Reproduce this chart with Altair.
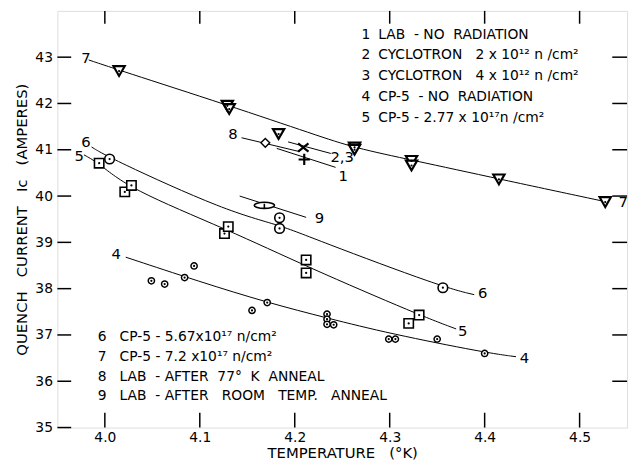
import altair as alt
import pandas as pd

S = "\u00a0"  # non-breaking space used to keep the wide lettering gaps

# ---------------- data ----------------
x_ticks = [4.0, 4.1, 4.2, 4.3, 4.4, 4.5]
y_ticks = [35, 36, 37, 38, 39, 40, 41, 42, 43]
y_ticks_right = [36, 37, 38, 39, 40, 41, 42, 43]

# series 7 (CP-5 7.2e17) inverted triangles
s7_x = [4.015, 4.129, 4.131, 4.183, 4.263, 4.263, 4.323, 4.323, 4.415, 4.527]
s7_y = [42.70, 41.95, 41.88, 41.34, 41.05, 41.00, 40.76, 40.66, 40.36, 39.87]
# series 6 (CP-5 5.67e17) circles
s6_x = [4.005, 4.184, 4.184, 4.356]
s6_y = [40.80, 39.53, 39.30, 38.02]
# series 5 (CP-5 2.77e17) squares
s5_x = [3.994, 4.021, 4.028, 4.126, 4.130, 4.212, 4.212, 4.320, 4.331]
s5_y = [40.71, 40.09, 40.23, 39.19, 39.34, 38.62, 38.34, 37.25, 37.43]
# series 4 (CP-5 no radiation) small circles
s4_x = [4.049, 4.063, 4.084, 4.094, 4.155, 4.171, 4.234, 4.234, 4.234, 4.241, 4.299, 4.306, 4.350, 4.400]
s4_y = [38.17, 38.10, 38.24, 38.49, 37.53, 37.70, 37.45, 37.34, 37.23, 37.22, 36.91, 36.91, 36.91, 36.60]
# single points
s8_x, s8_y = [4.169], [41.15]      # diamond
s23_x, s23_y = [4.209], [41.05]    # cross
s1_x, s1_y = [4.210], [40.79]      # plus
s9_x, s9_y = [4.168], [39.80]      # ellipse

# fitted curves
c7_x = [3.983, 4.015, 4.130, 4.222, 4.263, 4.323, 4.415, 4.527]
c7_y = [42.94, 42.72, 41.96, 41.32, 41.04, 40.78, 40.37, 39.88]
c6_x = [3.986, 4.005, 4.129, 4.184, 4.222, 4.356, 4.389]
c6_y = [41.06, 40.82, 39.66, 39.38, 39.06, 38.03, 37.87]
c5_x = [3.978, 3.994, 4.025, 4.130, 4.212, 4.331, 4.370]
c5_y = [40.89, 40.71, 40.16, 39.27, 38.48, 37.43, 37.13]
c4_x = [4.022, 4.100, 4.171, 4.235, 4.300, 4.400, 4.433]
c4_y = [38.68, 38.15, 37.70, 37.36, 37.03, 36.62, 36.53]
c8_x, c8_y = [4.144, 4.205], [41.26, 40.96]
c23_x, c23_y = [4.193, 4.238], [41.17, 40.92]
c1_x, c1_y = [4.181, 4.243], [41.03, 40.62]
c9_x, c9_y = [4.142, 4.212], [40.00, 39.54]

# curve labels
lab_text = ["7", "7", "6", "6", "5", "5", "4", "4", "8", "9", "2,3", "1"]
lab_x = [3.980, 4.546, 3.980, 4.398, 3.973, 4.377, 4.012, 4.442, 4.135, 4.226, 4.250, 4.251]
lab_y = [42.98, 39.87, 41.17, 37.91, 40.87, 37.09, 38.74, 36.51, 41.34, 39.53, 40.85, 40.43]

# legend blocks
leg1_num = ["1", "2", "3", "4", "5"]
leg1_txt = ["LAB" + S * 2 + "-" + S + "NO" + S * 2 + "RADIATION",
            "CYCLOTRON" + S * 3 + "2" + S + "x" + S + "10¹²" + S + "n" + S + "/cm²",
            "CYCLOTRON" + S * 3 + "4" + S + "x" + S + "10¹²" + S + "n" + S + "/cm²",
            "CP-5" + S * 2 + "-" + S + "NO" + S * 2 + "RADIATION",
            "CP-5" + S + "-" + S + "2.77" + S + "x" + S + "10¹⁷n" + S + "/cm²"]
leg2_num = ["6", "7", "8", "9"]
leg2_txt = ["CP-5" + S + "-" + S + "5.67x10¹⁷" + S + "n/cm²",
            "CP-5" + S + "-" + S + "7.2" + S + "x10¹⁷" + S + "n/cm²",
            "LAB" + S * 2 + "-" + S + "AFTER" + S * 2 + "77°" + S * 2 + "K" + S * 2 + "ANNEAL",
            "LAB" + S * 2 + "-" + S + "AFTER" + S * 3 + "ROOM" + S * 3 + "TEMP." + S * 3 + "ANNEAL"]

x_title = "TEMPERATURE" + S * 3 + "(°K)"
y_title = "QUENCH" + S * 3 + "CURRENT" + S * 3 + "Ic" + S * 3 + "(AMPERES)"

# ---------------- chart ----------------
W, H = 577, 422
FONT = "DejaVu Sans"
xs = alt.Scale(domain=[3.95, 4.55], nice=False, zero=False)
ys = alt.Scale(domain=[35, 44], nice=False, zero=False)
xaxis = alt.Axis(values=x_ticks, format=".1f", ticks=False, domain=False, grid=False,
                 labelFontSize=14, labelPadding=3, labelColor="black", labelFont=FONT,
                 title=x_title, titleFontSize=15, titleFont=FONT,
                 titleFontWeight="normal", titleColor="black", titlePadding=1)
yaxis = alt.Axis(values=y_ticks, format="d", ticks=False, domain=False, grid=False,
                 labelFontSize=14, labelPadding=5, labelColor="black", labelFont=FONT,
                 title=y_title, titleFontSize=15, titleFont=FONT,
                 titleFontWeight="normal", titleColor="black", titlePadding=5)


def X(f="x"):
    return alt.X(f"{f}:Q", scale=xs, axis=xaxis)


def Y(f="y"):
    return alt.Y(f"{f}:Q", scale=ys, axis=yaxis)


def df(xv, yv):
    return pd.DataFrame({"x": xv, "y": yv})


curves = pd.concat([
    df(c7_x, c7_y).assign(c="7"), df(c6_x, c6_y).assign(c="6"),
    df(c5_x, c5_y).assign(c="5"), df(c4_x, c4_y).assign(c="4"),
    df(c8_x, c8_y).assign(c="8"), df(c23_x, c23_y).assign(c="23"),
    df(c1_x, c1_y).assign(c="1"), df(c9_x, c9_y).assign(c="9"),
])

lines = alt.Chart(curves).mark_line(interpolate="basis", color="black", strokeWidth=1).encode(
    x=X(), y=Y(), detail="c:N", order="x:Q")


def pts(xv, yv, shape, size, sw=1.5):
    return alt.Chart(df(xv, yv)).mark_point(shape=shape, size=size, filled=False, fill="white",
                                            fillOpacity=1, stroke="black", strokeWidth=sw,
                                            opacity=1).encode(x=X(), y=Y())


def dots(xv, yv):
    return alt.Chart(df(xv, yv)).mark_circle(size=5, color="black", opacity=1).encode(x=X(), y=Y())


p7 = pts(s7_x, s7_y, "triangle-down", 130, 2.2)
p6 = pts(s6_x, s6_y, "circle", 95, 1.6)
p5 = pts(s5_x, s5_y, "square", 90, 1.6)
p4 = pts(s4_x, s4_y, "circle", 40, 1.5)
p8 = pts(s8_x, s8_y, "diamond", 80, 1.4)
p23 = pts(s23_x, s23_y, "M-1,-0.8L1,0.8M-1,0.8L1,-0.8", 110, 2.2)
p1 = pts(s1_x, s1_y, "M-1,0L1,0M0,-1L0,1", 130, 2.2)
p9 = pts(s9_x, s9_y, "M-1,0A1,0.3,0,1,1,1,0A1,0.3,0,1,1,-1,0ZM0,-0.15L0,0.3", 420, 1.6)
d_all = dots(s7_x + s6_x + s5_x + s4_x, s7_y + s6_y + s5_y + s4_y)

labels = alt.Chart(pd.DataFrame({"x": lab_x, "y": lab_y, "t": lab_text})).mark_text(
    font=FONT, fontSize=15, color="black", align="center", baseline="middle").encode(
    x=X(), y=Y(), text="t:N")

# inward tick marks
left_ticks = alt.Chart(pd.DataFrame({"y": y_ticks})).mark_rule(color="black", strokeWidth=1.5).encode(
    y=Y(), x=alt.value(0), x2=alt.value(14))
right_ticks = alt.Chart(pd.DataFrame({"y": y_ticks_right})).mark_rule(color="black", strokeWidth=1.5).encode(
    y=Y(), x=alt.value(W - 15), x2=alt.value(W))
top_ticks = alt.Chart(pd.DataFrame({"x": x_ticks})).mark_rule(color="black", strokeWidth=1.5).encode(
    x=X(), y=alt.value(0), y2=alt.value(13))
bottom_ticks = alt.Chart(pd.DataFrame({"x": x_ticks})).mark_rule(color="black", strokeWidth=1.5).encode(
    x=X(), y=alt.value(H - 15), y2=alt.value(H))


def legend_block(nums, txts, x0, y0, step, gap):
    d = pd.DataFrame({"n": nums, "t": txts, "k": list(range(len(nums)))})
    base = alt.Chart(d).transform_calculate(py=f"{y0} + datum.k * {step}")
    num = base.mark_text(font=FONT, fontSize=14, color="black", align="left", baseline="middle").encode(
        x=alt.value(x0), y=alt.Y("py:Q", scale=None), text="n:N")
    txt = base.mark_text(font=FONT, fontSize=14, color="black", align="left", baseline="middle").encode(
        x=alt.value(x0 + gap), y=alt.Y("py:Q", scale=None), text="t:N")
    return num + txt


leg1 = legend_block(leg1_num, leg1_txt, 308, 24, 21.2, 17)
leg2 = legend_block(leg2_num, leg2_txt, 41, 330, 20.2, 22)

chart = alt.layer(
    lines, p7, p6, p5, p4, p8, p23, p1, p9, d_all, labels,
    left_ticks, right_ticks, top_ticks, bottom_ticks, leg1, leg2
).properties(
    width=W, height=H,
    autosize=alt.AutoSizeParams(type="none"),
    padding={"left": 50, "top": 0, "right": 6, "bottom": 33},
).configure_view(stroke="black", strokeWidth=1.5).configure(background="white")

chart.save("out.html", embed_options={"renderer": "svg", "actions": False})
